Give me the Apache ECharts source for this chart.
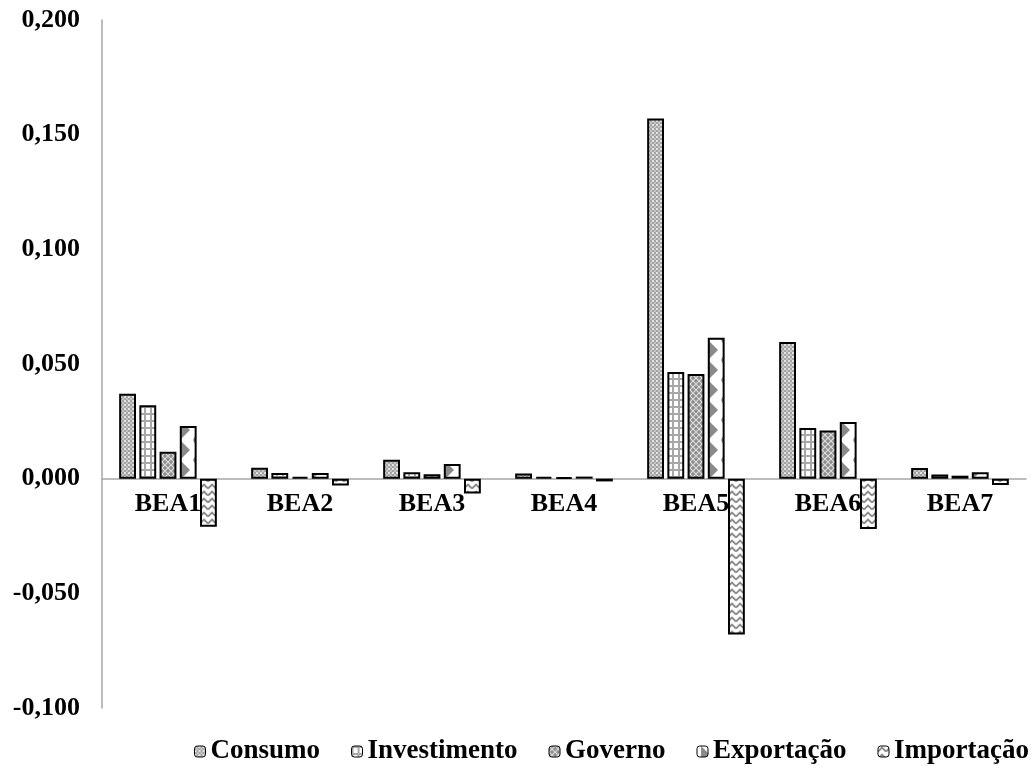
<!DOCTYPE html>
<html>
<head>
<meta charset="utf-8">
<script src="https://cdn.jsdelivr.net/npm/echarts@6/dist/echarts.min.js"></script>
<style>
  html, body { margin: 0; padding: 0; background: #fff; }
  #chart { width: 1035px; height: 770px; }
</style>
</head>
<body>
<div id="chart"></div>
<script>
// Categories and series values
const categories = ['BEA1', 'BEA2', 'BEA3', 'BEA4', 'BEA5', 'BEA6', 'BEA7'];
const consumo      = [0.037, 0.0048, 0.0083, 0.0022, 0.157, 0.0596, 0.0047];
const investimento = [0.032, 0.0025, 0.0028, 0.0007, 0.0465, 0.0221, 0.0018];
const governo      = [0.0117, 0.0008, 0.0019, 0.0006, 0.0456, 0.021, 0.0013];
const exportacao   = [0.023, 0.0025, 0.0064, 0.0009, 0.0615, 0.0247, 0.0028];
const importacao   = [-0.021, -0.003, -0.0065, -0.0012, -0.068, -0.022, -0.0028];
const seriesNames  = ['Consumo', 'Investimento', 'Governo', 'Exportação', 'Importação'];
const yTickLabels  = ['-0,100', '-0,050', '0,000', '0,050', '0,100', '0,150', '0,200'];

const Y_MIN = -0.1, Y_MAX = 0.2, Y_STEP = 0.05;
const FONT = '"Liberation Serif", "Times New Roman", serif';

const W = 1035, H = 770;
const GRID = { left: 102, right: 9, top: 20, bottom: 62 };
const gridHeight = H - GRID.top - GRID.bottom;
// lift the category axis (line and labels) up to the zero level of the value axis
const zeroOffset = -gridHeight * (0 - Y_MIN) / (Y_MAX - Y_MIN);

// Small canvas tiles used as hatch fills
function tile(w, h, draw) {
  const c = document.createElement('canvas');
  c.width = w; c.height = h;
  const g = c.getContext('2d');
  draw(g, w, h);
  return c;
}

// fine dotted grey
const patConsumo = tile(4, 4, (g) => {
  g.fillStyle = '#a4a4a4'; g.fillRect(0, 0, 4, 4);
  g.fillStyle = '#e2e2e2'; g.fillRect(0, 0, 2, 2);
  g.fillStyle = '#c4c4c4'; g.fillRect(2, 2, 2, 2);
});
// white with grey grid
const patInvest = tile(6, 7, (g) => {
  g.fillStyle = '#ffffff'; g.fillRect(0, 0, 6, 7);
  g.fillStyle = '#a8a8a8';
  g.fillRect(0, 0, 6, 2);
  g.fillRect(0, 0, 2, 7);
});
// grey diamond lattice
const patGoverno = tile(6, 6, (g) => {
  g.fillStyle = '#8c8c8c'; g.fillRect(0, 0, 6, 6);
  g.strokeStyle = '#dcdcdc'; g.lineWidth = 1.2;
  g.beginPath();
  g.moveTo(0, 0); g.lineTo(6, 6);
  g.moveTo(6, 0); g.lineTo(0, 6);
  g.stroke();
});
// white with grey triangles pointing right (22 px wide, so it repeats 6x per category)
const patExport = tile(22, 20, (g) => {
  g.fillStyle = '#ffffff'; g.fillRect(0, 0, 22, 20);
  g.fillStyle = '#8a8a8a';
  g.beginPath(); g.moveTo(4, 0); g.lineTo(14, 10); g.lineTo(4, 20); g.closePath(); g.fill();
  g.beginPath(); g.moveTo(21, -7); g.lineTo(17, 0); g.lineTo(21, 7); g.closePath(); g.fill();
  g.beginPath(); g.moveTo(21, 13); g.lineTo(17, 20); g.lineTo(21, 27); g.closePath(); g.fill();
});
// white with grey chevrons
const patImport = tile(8, 7, (g) => {
  g.fillStyle = '#ffffff'; g.fillRect(0, 0, 8, 7);
  g.strokeStyle = '#8a8a8a'; g.lineWidth = 1.8;
  g.beginPath();
  g.moveTo(0, 5.5); g.lineTo(4, 1.5); g.lineTo(8, 5.5);
  g.stroke();
});

const patterns = [patConsumo, patInvest, patGoverno, patExport, patImport];
const values = [consumo, investimento, governo, exportacao, importacao];

const chart = echarts.init(document.getElementById('chart'), null, { renderer: 'canvas' });

chart.setOption({
  animation: false,
  backgroundColor: '#ffffff',
  grid: GRID,
  legend: {
    data: seriesNames,
    left: 189,
    top: 733,
    width: 846,
    itemWidth: 11,
    itemHeight: 11,
    itemGap: 31,
    textStyle: { fontFamily: FONT, fontWeight: 'bold', fontSize: 27, color: '#000' },
    itemStyle: { borderColor: '#000', borderWidth: 1 }
  },
  xAxis: {
    type: 'category',
    data: categories,
    position: 'bottom',
    offset: zeroOffset,
    axisLine: { onZero: false, lineStyle: { color: '#a6a6a6', width: 1.5 } },
    axisTick: { show: false },
    axisLabel: { fontFamily: FONT, fontWeight: 'bold', fontSize: 26, color: '#000', margin: 13 },
    splitLine: { show: false }
  },
  yAxis: {
    type: 'value',
    min: Y_MIN,
    max: Y_MAX,
    interval: Y_STEP,
    axisLine: { show: true, lineStyle: { color: '#a6a6a6', width: 1.5 } },
    axisTick: { show: false },
    splitLine: { show: false },
    axisLabel: {
      fontFamily: FONT, fontWeight: 'bold', fontSize: 26, color: '#000', margin: 22,
      formatter: (v) => yTickLabels[Math.round((v - Y_MIN) / Y_STEP)]
    }
  },
  series: seriesNames.map((name, i) => ({
    name,
    type: 'bar',
    data: values[i],
    barGap: '20%',
    barCategoryGap: '26%',
    itemStyle: {
      color: { image: patterns[i], repeat: 'repeat' },
      borderColor: '#000',
      borderWidth: 2
    }
  }))
});
</script>
</body>
</html>
